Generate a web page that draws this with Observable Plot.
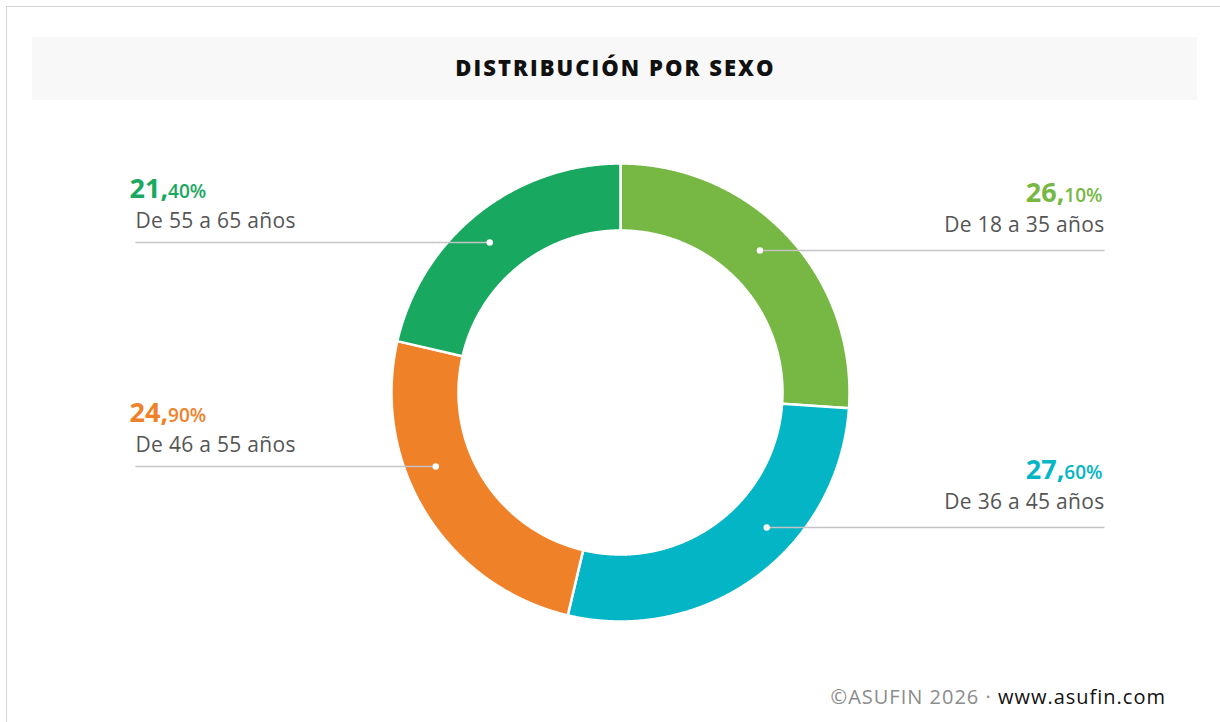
<!DOCTYPE html>
<html><head><meta charset="utf-8">
<script src="https://cdn.jsdelivr.net/npm/d3@7"></script>
<script src="https://cdn.jsdelivr.net/npm/@observablehq/plot@0.6"></script>
<style>
body{margin:0;background:#fff;font-family:"Open Sans",sans-serif;}
#wrap{position:relative;width:1220px;height:722px;overflow:hidden;}
#frame{position:absolute;left:6px;top:6px;right:-4px;bottom:-4px;border-top:1px solid #d4d4d4;border-left:1px solid #d4d4d4;}
#title{position:absolute;left:32px;top:37px;width:1165px;height:60px;padding-bottom:3px;background:#f8f8f8;display:flex;align-items:center;justify-content:center;font-weight:800;font-size:22px;color:#111;letter-spacing:2.05px;text-indent:2px;}
#chart{position:absolute;left:0;top:100px;}
#footer{position:absolute;right:54px;top:687px;font-size:20px;line-height:20px;white-space:nowrap;letter-spacing:1px;}
#footer .c{color:#8c8c8c;}
#footer .w{color:#111;font-weight:500;}
</style></head>
<body>
<div id="wrap">
  <div id="frame"></div>
  <div id="title">DISTRIBUCIÓN POR SEXO</div>
  <div id="chart"></div>
  <div id="footer"><span class="c">©ASUFIN 2026 · </span><span class="w">www.asufin.com</span></div>
</div>
<script>
// ---- data ----
const categories = ["De 18 a 35 años", "De 36 a 45 años", "De 46 a 55 años", "De 55 a 65 años"];
const values = [26.1, 27.6, 24.9, 21.4];
const colors = ["#76b843", "#04b5c6", "#ef8129", "#19a85f"];

// ---- layout constants ----
const W = 1220, H = 570;
const cx = 620, cy = 292;           // donut centre within svg (pixels)
const R = 229, r = 162, rm = 199;   // outer, inner, dot radius
const rowY = [142, -135, -74, 150]; // leader-line heights (chart units, y up)
const lineEnd = 484;

// ---- build arc polygons ----
const arcs = d3.pie().sort(null).value(d => d)(values);
const poly = [];
arcs.forEach((a, i) => {
  const n = Math.max(2, Math.ceil((a.endAngle - a.startAngle) / (Math.PI / 720)));
  for (let k = 0; k <= n; k++) {
    const t = a.startAngle + (a.endAngle - a.startAngle) * k / n;
    poly.push({cat: categories[i], x: R * Math.sin(t), y: R * Math.cos(t)});
  }
  for (let k = n; k >= 0; k--) {
    const t = a.startAngle + (a.endAngle - a.startAngle) * k / n;
    poly.push({cat: categories[i], x: r * Math.sin(t), y: r * Math.cos(t)});
  }
});

// ---- labels ----
const labels = arcs.map((a, i) => {
  const mid = (a.startAngle + a.endAngle) / 2;
  const right = Math.sin(mid) > 0;
  const y = rowY[i];
  const dx = Math.sqrt(rm * rm - y * y);
  const s = values[i].toFixed(2).replace(".", ",") + "%";
  return {
    cat: categories[i], right, y,
    dotX: right ? dx : -dx,
    endX: right ? lineEnd : -lineEnd - 1,
    pct: s,
    pctX: right ? lineEnd - 2 : -lineEnd - 7,
    pctY: y + (right ? 49 : 45),
    subX: right ? lineEnd : -lineEnd - 1,
    subY: y + (right ? 19 : 15)
  };
});
const L = labels.filter(d => !d.right), Rt = labels.filter(d => d.right);

const chart = Plot.plot({
  width: W, height: H,
  margin: 0,
  x: {domain: [-cx, W - cx], axis: null},
  y: {domain: [-(H - cy), cy], axis: null},
  color: {domain: categories, range: colors},
  style: {fontFamily: "'Open Sans', sans-serif", background: "transparent"},
  marks: [
    Plot.line(poly, {x: "x", y: "y", z: "cat", fill: "cat", stroke: "white", strokeWidth: 2.5, curve: "linear-closed"}),
    Plot.link(labels, {x1: "dotX", x2: "endX", y1: "y", y2: "y", stroke: "#c4c4c4", strokeWidth: 1.5}),
    Plot.dot(labels, {x: "dotX", y: "y", r: 3.2, fill: "white", stroke: null}),
    Plot.text(L, {x: "pctX", y: "pctY", text: "pct", fill: "cat", textAnchor: "start", lineAnchor: "bottom"}),
    Plot.text(Rt, {x: "pctX", y: "pctY", text: "pct", fill: "cat", textAnchor: "end", lineAnchor: "bottom"}),
    Plot.text(L, {x: "subX", y: "subY", text: "cat", fill: "#555", fontSize: 21, textAnchor: "start", lineAnchor: "bottom"}),
    Plot.text(Rt, {x: "subX", y: "subY", text: "cat", fill: "#555", fontSize: 21, textAnchor: "end", lineAnchor: "bottom"})
  ]
});

// split percentages into large integer part and smaller decimals
d3.select(chart).selectAll("text").each(function() {
  const t = this.textContent;
  const m = /^(\d+,)(\d+%)$/.exec(t);
  if (!m) {
    if (/años/.test(t)) d3.select(this).attr("letter-spacing", 0.3);
    return;
  }
  const el = d3.select(this);
  el.text(null);
  el.append("tspan").attr("font-size", 27).attr("font-weight", 700).text(m[1]);
  el.append("tspan").attr("font-size", 19).attr("font-weight", 600).text(m[2]);
});

document.getElementById("chart").appendChild(chart);
</script>
</body></html>
